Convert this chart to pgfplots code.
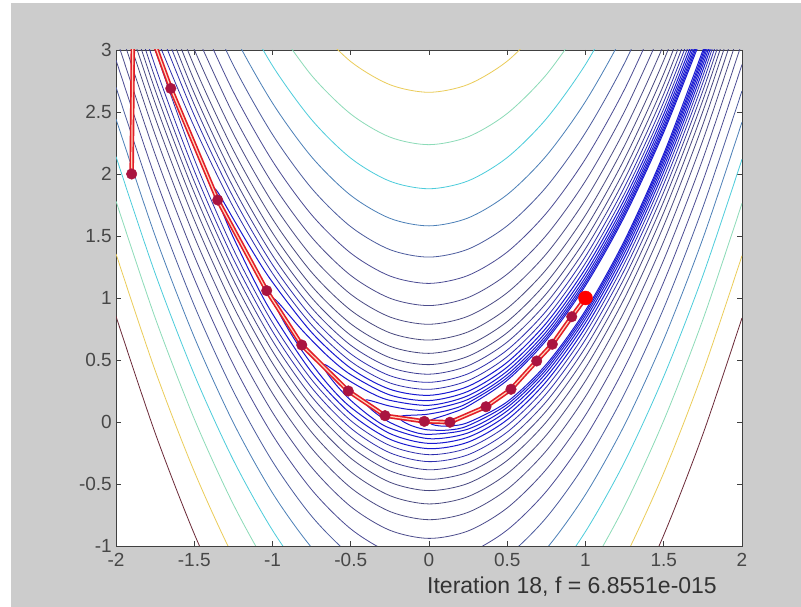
\documentclass[border=0pt]{standalone}
\usepackage{fontspec}
\setmainfont{Liberation Sans}
\usepackage{pgfplots}
\pgfplotsset{compat=1.18}
\definecolor{figgray}{RGB}{204,204,204}
\definecolor{c20}{rgb}{0.42,0.16,0.22}
\definecolor{c19}{rgb}{0.92,0.8,0.35}
\definecolor{c18}{rgb}{0.55,0.86,0.72}
\definecolor{c17}{rgb}{0.3,0.8,0.86}
\definecolor{c16}{rgb}{0.3,0.5,0.72}
\definecolor{c15}{rgb}{0.3,0.36,0.62}
\definecolor{c14}{rgb}{0.3,0.3,0.58}
\definecolor{c13}{rgb}{0.3,0.3,0.55}
\definecolor{c12}{rgb}{0.3,0.3,0.52}
\definecolor{c11}{rgb}{0.29,0.29,0.5}
\definecolor{c10}{rgb}{0.28,0.28,0.5}
\definecolor{c9}{rgb}{0.27,0.27,0.52}
\definecolor{c8}{rgb}{0.24,0.24,0.58}
\definecolor{clow}{rgb}{0.18,0.18,0.68}
\definecolor{cvlow}{rgb}{0.1,0.1,0.82}
\definecolor{pathred}{RGB}{226,30,40}
\definecolor{pathcore}{RGB}{255,215,190}
\definecolor{markred}{RGB}{170,20,64}
\pgfplotsset{ct/.style={no markers, smooth, line width=0.8pt},
  ctv/.style={no markers, smooth, line width=1pt}}
\begin{document}
\begin{tikzpicture}[x=1pt,y=1pt]
\fill[white] (0,0) rectangle (801,607);
\fill[figgray] (11,0) rectangle (801,604);
\begin{axis}[
  at={(116pt,61pt)}, anchor=south west,
  width=626pt, height=496pt, scale only axis,
  xmin=-2, xmax=2, ymin=-1, ymax=3,
  axis background/.style={fill=white},
  axis line style={draw=black!75, line width=0.8pt},
  tick style={draw=black!75, line width=0.8pt},
  tick align=inside, tick pos=both, major tick length=5pt,
  xticklabel pos=lower, yticklabel pos=left,
  xtick={-2,-1.5,-1,-0.5,0,0.5,1,1.5,2},
  xticklabels={-2,-1.5,-1,-0.5,0,0.5,1,1.5,2},
  ytick={-1,-0.5,0,0.5,1,1.5,2,2.5,3},
  yticklabels={-1,-0.5,0,0.5,1,1.5,2,2.5,3},
  tick label style={font=\fontsize{19}{19}\selectfont, text=black!72, inner sep=0pt},
  xticklabel style={anchor=north, yshift=-7pt},
  yticklabel style={anchor=east, xshift=-4pt},
  clip=true,
]
% level 1000
\addplot[ct, c20] coordinates {(-2,0.852) (-1.75,-0.088) (-1.5,-0.902) (-1.25,-1.592)};
\addplot[ct, c20] coordinates {(1.25,-1.600) (1.5,-0.912) (1.75,-0.099) (2,0.839)};
% level 708
\addplot[ct, c19] coordinates {(-0.75,3.217) (-0.5,2.9065) (-0.25,2.7203) (0,2.6588) (0.25,2.7221) (0.5,2.9102) (0.75,3.2231)};
\addplot[ct, c19] coordinates {(-2,1.356) (-1.75,0.416) (-1.5,-0.399) (-1.25,-1.089) (-1,-1.653)};
\addplot[ct, c19] coordinates {(1,-1.661) (1.25,-1.098) (1.5,-0.410) (1.75,0.403) (2,1.341)};
% level 501
\addplot[ct, c18] coordinates {(-1,3.2298) (-0.75,2.7944) (-0.5,2.4837) (-0.25,2.2977) (0,2.2365) (0.25,2.2999) (0.5,2.4881) (0.75,2.8011) (1,3.2387)};
\addplot[ct, c18] coordinates {(-2,1.7814) (-1.75,0.8407) (-1.5,0.0253) (-1.25,-0.6649) (-1,-1.2298) (-0.75,-1.669)};
\addplot[ct, c18] coordinates {(0.75,-1.676) (1,-1.2387) (1.25,-0.6761) (1.5,0.0119) (1.75,0.8251) (2,1.7635)};
% level 355
\addplot[ct, c17] coordinates {(-1.25,3.4327) (-1,2.873) (-0.75,2.438) (-0.5,2.1276) (-0.25,1.942) (0,1.8809) (0.25,1.9446) (0.5,2.1329) (0.75,2.4459) (1,2.8836) (1.25,3.4459)};
\addplot[ct, c17] coordinates {(-2,2.1403) (-1.75,1.199) (-1.5,0.383) (-1.25,-0.3077) (-1,-0.873) (-0.75,-1.313) (-0.5,-1.6276)};
\addplot[ct, c17] coordinates {(0.5,-1.6329) (0.75,-1.3209) (1,-0.8836) (1.25,-0.3209) (1.5,0.3671) (1.75,1.1804) (2,2.1191)};
% level 251
\addplot[ct, c16] coordinates {(-1.5,3.815) (-1.25,3.1314) (-1,2.5723) (-0.75,2.1377) (-0.5,1.8278) (-0.25,1.6425) (0,1.5817) (0.25,1.6456) (0.5,1.8341) (0.75,2.1472) (1,2.5849) (1.25,3.1472) (1.5,3.8341)};
\addplot[ct, c16] coordinates {(-2,2.4435) (-1.75,1.5015) (-1.5,0.6848) (-1.25,-0.0064) (-1,-0.5723) (-0.75,-1.0127) (-0.5,-1.3278)};
\addplot[ct, c16] coordinates {(0.5,-1.3341) (0.75,-1.0222) (1,-0.5849) (1.25,-0.0222) (1.5,0.6659) (1.75,1.4794) (2,2.4183)};
% level 178
\addplot[ct, c15] coordinates {(-1.5,3.5601) (-1.25,2.877) (-1,2.3185) (-0.75,1.8845) (-0.5,1.5751) (-0.25,1.3901) (0,1.3298) (0.25,1.3939) (0.5,1.5826) (0.75,1.8958) (1,2.3335) (1.25,2.8958) (1.5,3.5826)};
\addplot[ct, c15] coordinates {(-2,2.7002) (-1.75,1.7574) (-1.5,0.9399) (-1.25,0.248) (-1,-0.3185) (-0.75,-0.7595) (-0.5,-1.0751) (-0.25,-1.2651)};
\addplot[ct, c15] coordinates {(0.25,-1.2689) (0.5,-1.0826) (0.75,-0.7708) (1,-0.3335) (1.25,0.2292) (1.5,0.9174) (1.75,1.7311) (2,2.6702)};
% level 126
\addplot[ct, c14] coordinates {(-1.5,3.3441) (-1.25,2.6619) (-1,2.1042) (-0.75,1.6709) (-0.5,1.362) (-0.25,1.1775) (0,1.1175) (0.25,1.182) (0.5,1.3709) (0.75,1.6842) (1,2.122) (1.25,2.6842) (1.5,3.3709)};
\addplot[ct, c14] coordinates {(-2,2.9188) (-1.75,1.9742) (-1.5,1.1559) (-1.25,0.4631) (-1,-0.1042) (-0.75,-0.5459) (-0.5,-0.862) (-0.25,-1.0525) (0,-1.1175) (0.25,-1.057) (0.5,-0.8709) (0.75,-0.5592) (1,-0.122) (1.25,0.4408) (1.5,1.1291) (1.75,1.943) (2,2.8825)};
% level 89
\addplot[ct, c13] coordinates {(-1.5,3.1604) (-1.25,2.4794) (-1,1.9226) (-0.75,1.4902) (-0.5,1.1821) (-0.25,0.9983) (0,0.9388) (0.25,1.0036) (0.5,1.1927) (0.75,1.5062) (1,1.9441) (1.25,2.5062) (1.5,3.1927)};
\addplot[ct, c13] coordinates {(-2,3.1049) (-1.75,2.1594) (-1.5,1.3396) (-1.25,0.6456) (-1,0.0774) (-0.75,-0.3652) (-0.5,-0.6821) (-0.25,-0.8733) (0,-0.9388) (0.25,-0.8786) (0.5,-0.6927) (0.75,-0.3812) (1,0.0559) (1.25,0.6188) (1.5,1.3073) (1.75,2.1214) (2,3.0612)};
% level 63
\addplot[ct, c12] coordinates {(-1.75,3.8077) (-1.5,3.004) (-1.25,2.3243) (-1,1.7687) (-0.75,1.3373) (-0.5,1.03) (-0.25,0.8469) (0,0.788) (0.25,0.8533) (0.5,1.0428) (0.75,1.3564) (1,1.7943) (1.25,2.3564) (1.5,3.0428) (1.75,3.8533)};
\addplot[ct, c12] coordinates {(-2,3.2645) (-1.75,2.3173) (-1.5,1.496) (-1.25,0.8007) (-1,0.2313) (-0.75,-0.2123) (-0.5,-0.53) (-0.25,-0.7219) (0,-0.788) (0.25,-0.7283) (0.5,-0.5428) (0.75,-0.2314) (1,0.2057) (1.25,0.7686) (1.5,1.4572) (1.75,2.2717) (2,3.212)};
% level 44.7
\addplot[ct, c11] coordinates {(-1.75,3.6716) (-1.5,2.8698) (-1.25,2.1918) (-1,1.6377) (-0.75,1.2075) (-0.5,0.9013) (-0.25,0.7191) (0,0.6608) (0.25,0.7266) (0.5,0.9165) (0.75,1.2304) (1,1.6683) (1.25,2.2304) (1.5,2.9165) (1.75,3.7266)};
\addplot[ct, c11] coordinates {(-2,3.4028) (-1.75,2.4534) (-1.5,1.6302) (-1.25,0.9332) (-1,0.3623) (-0.75,-0.0825) (-0.5,-0.4013) (-0.25,-0.5941) (0,-0.6608) (0.25,-0.6016) (0.5,-0.4165) (0.75,-0.1054) (1,0.3317) (1.25,0.8946) (1.5,1.5835) (1.75,2.3984) (2,3.3392)};
% level 31.6
\addplot[ct, c10] coordinates {(-1.75,3.553) (-1.5,2.7537) (-1.25,2.0779) (-1,1.5256) (-0.75,1.0969) (-0.5,0.792) (-0.25,0.6108) (0,0.5534) (0.25,0.6198) (0.5,0.8101) (0.75,1.1243) (1,1.5623) (1.25,2.1243) (1.5,2.8101) (1.75,3.6198)};
\addplot[ct, c10] coordinates {(-2,3.5244) (-1.75,2.572) (-1.5,1.7463) (-1.25,1.0471) (-1,0.4744) (-0.75,0.0281) (-0.5,-0.292) (-0.25,-0.4858) (0,-0.5534) (0.25,-0.4948) (0.5,-0.3101) (0.75,0.0007) (1,0.4377) (1.25,1.0007) (1.5,1.6899) (1.75,2.5052) (2,3.4466)};
% level 22.4
\addplot[ct, c9] coordinates {(-1.75,3.4475) (-1.5,2.6517) (-1.25,1.9787) (-1,1.4288) (-0.75,1.0021) (-0.5,0.6987) (-0.25,0.5188) (0,0.4625) (0.25,0.5297) (0.5,0.7205) (0.75,1.035) (1,1.4732) (1.25,2.035) (1.5,2.7205) (1.75,3.5297)};
\addplot[ct, c9] coordinates {(-2,3.6341) (-1.75,2.6775) (-1.5,1.8483) (-1.25,1.1463) (-1,0.5712) (-0.75,0.1229) (-0.5,-0.1987) (-0.25,-0.3938) (0,-0.4625) (0.25,-0.4047) (0.5,-0.2205) (0.75,0.09) (1,0.5268) (1.25,1.09) (1.5,1.7795) (1.75,2.5953) (2,3.5375)};
% level 15.8
\addplot[ct, c8] coordinates {(-1.75,3.3504) (-1.5,2.5598) (-1.25,1.8909) (-1,1.3442) (-0.75,0.9201) (-0.5,0.6188) (-0.25,0.4405) (0,0.3854) (0.25,0.4535) (0.5,0.645) (0.75,0.9598) (1,1.3981) (1.25,1.9598) (1.5,2.645) (1.75,3.4535)};
\addplot[ct, c8] coordinates {(-2,3.7383) (-1.75,2.7746) (-1.5,1.9402) (-1.25,1.2341) (-1,0.6558) (-0.75,0.2049) (-0.5,-0.1188) (-0.25,-0.3155) (0,-0.3854) (0.25,-0.3285) (0.5,-0.145) (0.75,0.1652) (1,0.6019) (1.25,1.1652) (1.5,1.855) (1.75,2.6715) (2,3.6146)};
% level 11.2
\addplot[ct, clow] coordinates {(-1.75,3.2537) (-1.5,2.4729) (-1.25,1.8106) (-1,1.2687) (-0.75,0.8481) (-0.5,0.5495) (-0.25,0.3733) (0,0.3197) (0.25,0.389) (0.5,0.5812) (0.75,0.8965) (1,1.335) (1.25,1.8965) (1.5,2.5812) (1.75,3.389)};
\addplot[ct, clow] coordinates {(-2,3.851) (-1.75,2.8713) (-1.5,2.0271) (-1.25,1.3144) (-1,0.7313) (-0.75,0.2769) (-0.5,-0.0495) (-0.25,-0.2483) (0,-0.3197) (0.25,-0.264) (0.5,-0.0812) (0.75,0.2285) (1,0.665) (1.25,1.2285) (1.5,1.9188) (1.75,2.736) (2,3.6803)};
% level 7.94
\addplot[ct, clow] coordinates {(1.75,3.3342) (1.5,2.5274) (1.25,1.8432) (1,1.2818) (0.75,0.8432) (0.5,0.5274) (0.25,0.3342) (0,0.2635) (-0.25,0.3151) (-0.5,0.4886) (-0.75,0.7834) (-1,1.1986) (-1.25,1.7322) (-1.5,2.3801) (-1.75,3.1242) (-1.818,3.306) (-1.75,3.0008) (-1.5,2.1199) (-1.25,1.3928) (-1,0.8014) (-0.75,0.3416) (-0.5,0.0114) (-0.25,-0.1901) (0,-0.2635) (0.25,-0.2092) (0.5,-0.0274) (0.75,0.2818) (1,0.7182) (1.25,1.2818) (1.5,1.9726) (1.75,2.7908) (2,3.7365)};
% level 5.62
\addplot[ctv, cvlow] coordinates {(1.75,3.2875) (1.5,2.4818) (1.25,1.7983) (1,1.2371) (0.75,0.7983) (0.5,0.4818) (0.25,0.2875) (0,0.215) (-0.25,0.264) (-0.5,0.4337) (-0.75,0.7225) (-1,1.1274) (-1.125,1.3708) (-1.25,1.6374) (-1.3,1.7477) (-1.35,1.8542) (-1.3713,1.8805) (-1.35,1.7908) (-1.3,1.6323) (-1.25,1.4876) (-1.125,1.1604) (-1,0.8726) (-0.75,0.4025) (-0.5,0.0663) (-0.25,-0.139) (0,-0.215) (0.25,-0.1625) (0.5,0.0182) (0.75,0.3267) (1,0.7629) (1.25,1.3267) (1.5,2.0182) (1.75,2.8375) (2,3.785)};
% level 3.98
\addplot[ctv, cvlow] coordinates {(1.75,3.2474) (1.5,2.4432) (1.25,1.7605) (1,1.1995) (0.75,0.7605) (0.5,0.4432) (0.25,0.2474) (0,0.1727) (-0.25,0.218) (-0.5,0.3816) (-0.65,0.5347) (-0.8,0.7261) (-0.9,0.8709) (-0.95,0.9447) (-0.98,0.985) (-0.9953,0.9906) (-0.98,0.9358) (-0.95,0.8603) (-0.9,0.7491) (-0.8,0.5539) (-0.65,0.3103) (-0.5,0.1184) (-0.25,-0.093) (0,-0.1727) (0.25,-0.1224) (0.5,0.0568) (0.75,0.3645) (1,0.8005) (1.25,1.3645) (1.5,2.0568) (1.75,2.8776) (2,3.8273)};
% level 2.82
\addplot[ctv, cvlow] coordinates {(1.75,3.2127) (1.5,2.4103) (1.25,1.7285) (1,1.1679) (0.75,0.7285) (0.5,0.4103) (0.25,0.2127) (0,0.1348) (-0.25,0.1746) (-0.375,0.2369) (-0.5,0.3254) (-0.58,0.3931) (-0.63,0.437) (-0.66,0.4606) (-0.6788,0.4608) (-0.66,0.4106) (-0.63,0.3568) (-0.58,0.2797) (-0.5,0.1746) (-0.375,0.0443) (-0.25,-0.0496) (0,-0.1348) (0.25,-0.0877) (0.5,0.0897) (0.75,0.3965) (1,0.8321) (1.25,1.3965) (1.5,2.0897) (1.75,2.9123) (2,3.8652)};
% level 2.0
\addplot[ctv, cvlow] coordinates {(1.75,3.1822) (1.5,2.3821) (1.25,1.7015) (1,1.1412) (0.75,0.7015) (0.5,0.3821) (0.25,0.1822) (0,0.0998) (-0.125,0.101) (-0.25,0.1283) (-0.33,0.1565) (-0.375,0.1729) (-0.4,0.1787) (-0.4125,0.1702) (-0.4,0.1413) (-0.375,0.1083) (-0.33,0.0613) (-0.25,-0.0033) (-0.125,-0.0698) (0,-0.0998) (0.25,-0.0572) (0.5,0.1179) (0.75,0.4235) (1,0.8588) (1.25,1.4235) (1.5,2.1179) (1.75,2.9428) (2,3.9002)};
% level 1.41
\addplot[ctv, cvlow] coordinates {(1.75,3.1547) (1.5,2.3578) (1.25,1.6787) (1,1.1188) (0.75,0.6787) (0.5,0.3578) (0.25,0.1547) (0.125,0.096) (0,0.0642) (-0.06,0.0574) (-0.12,0.0542) (-0.16,0.0515) (-0.18,0.0466) (-0.1885,0.0355) (-0.18,0.0182) (-0.16,-0.0003) (-0.12,-0.0254) (-0.06,-0.0502) (0,-0.0642) (0.125,-0.0648) (0.25,-0.0297) (0.5,0.1422) (0.75,0.4463) (1,0.8812) (1.25,1.4463) (1.5,2.1422) (1.75,2.9703) (2,3.9358)};
% level 1.0
\addplot[ctv, cvlow] coordinates {(1.75,3.1286) (1.5,2.3366) (1.25,1.6593) (1,1.1) (0.75,0.6593) (0.5,0.3366) (0.25,0.1286) (0.125,0.064) (0.06,0.0377) (0.02,0.0203) (0,0) (0.02,-0.0195) (0.06,-0.0305) (0.125,-0.0328) (0.25,-0.0036) (0.5,0.1634) (0.75,0.4657) (1,0.9) (1.25,1.4657) (1.5,2.1634) (1.75,2.9964) (1.8,3.18)};
% optimisation path
\addplot[no markers, line width=4.5pt, color=pathred] coordinates {(-1.9,2.0) (-1.889,3.52) (-1.65,2.69) (-1.35,1.79) (-1.037,1.059) (-0.813,0.621) (-0.516,0.25) (-0.281,0.051) (-0.03,0.005) (0.134,-0.002) (0.364,0.123) (0.524,0.264) (0.688,0.492) (0.788,0.627) (0.912,0.849) (1,1)};
\addplot[no markers, line width=1.2pt, color=pathcore] coordinates {(-1.9,2.0) (-1.889,3.52) (-1.65,2.69) (-1.35,1.79) (-1.037,1.059) (-0.813,0.621) (-0.516,0.25) (-0.281,0.051) (-0.03,0.005) (0.134,-0.002) (0.364,0.123) (0.524,0.264) (0.688,0.492) (0.788,0.627) (0.912,0.849) (1,1)};
\addplot[only marks, mark=*, mark size=5.3pt, color=markred] coordinates {(-1.9,2.0) (-1.65,2.69) (-1.35,1.79) (-1.037,1.059) (-0.813,0.621) (-0.516,0.25) (-0.281,0.051) (-0.03,0.005) (0.134,-0.002) (0.364,0.123) (0.524,0.264) (0.688,0.492) (0.788,0.627) (0.912,0.849)};
\addplot[only marks, mark=*, mark size=7pt, color=red] coordinates {(1,1)};
\end{axis}
\node[font=\fontsize{23}{23}\selectfont, text=black!80] at (572,20.3) {Iteration 18, f = 6.8551e-015};
\end{tikzpicture}
\end{document}
